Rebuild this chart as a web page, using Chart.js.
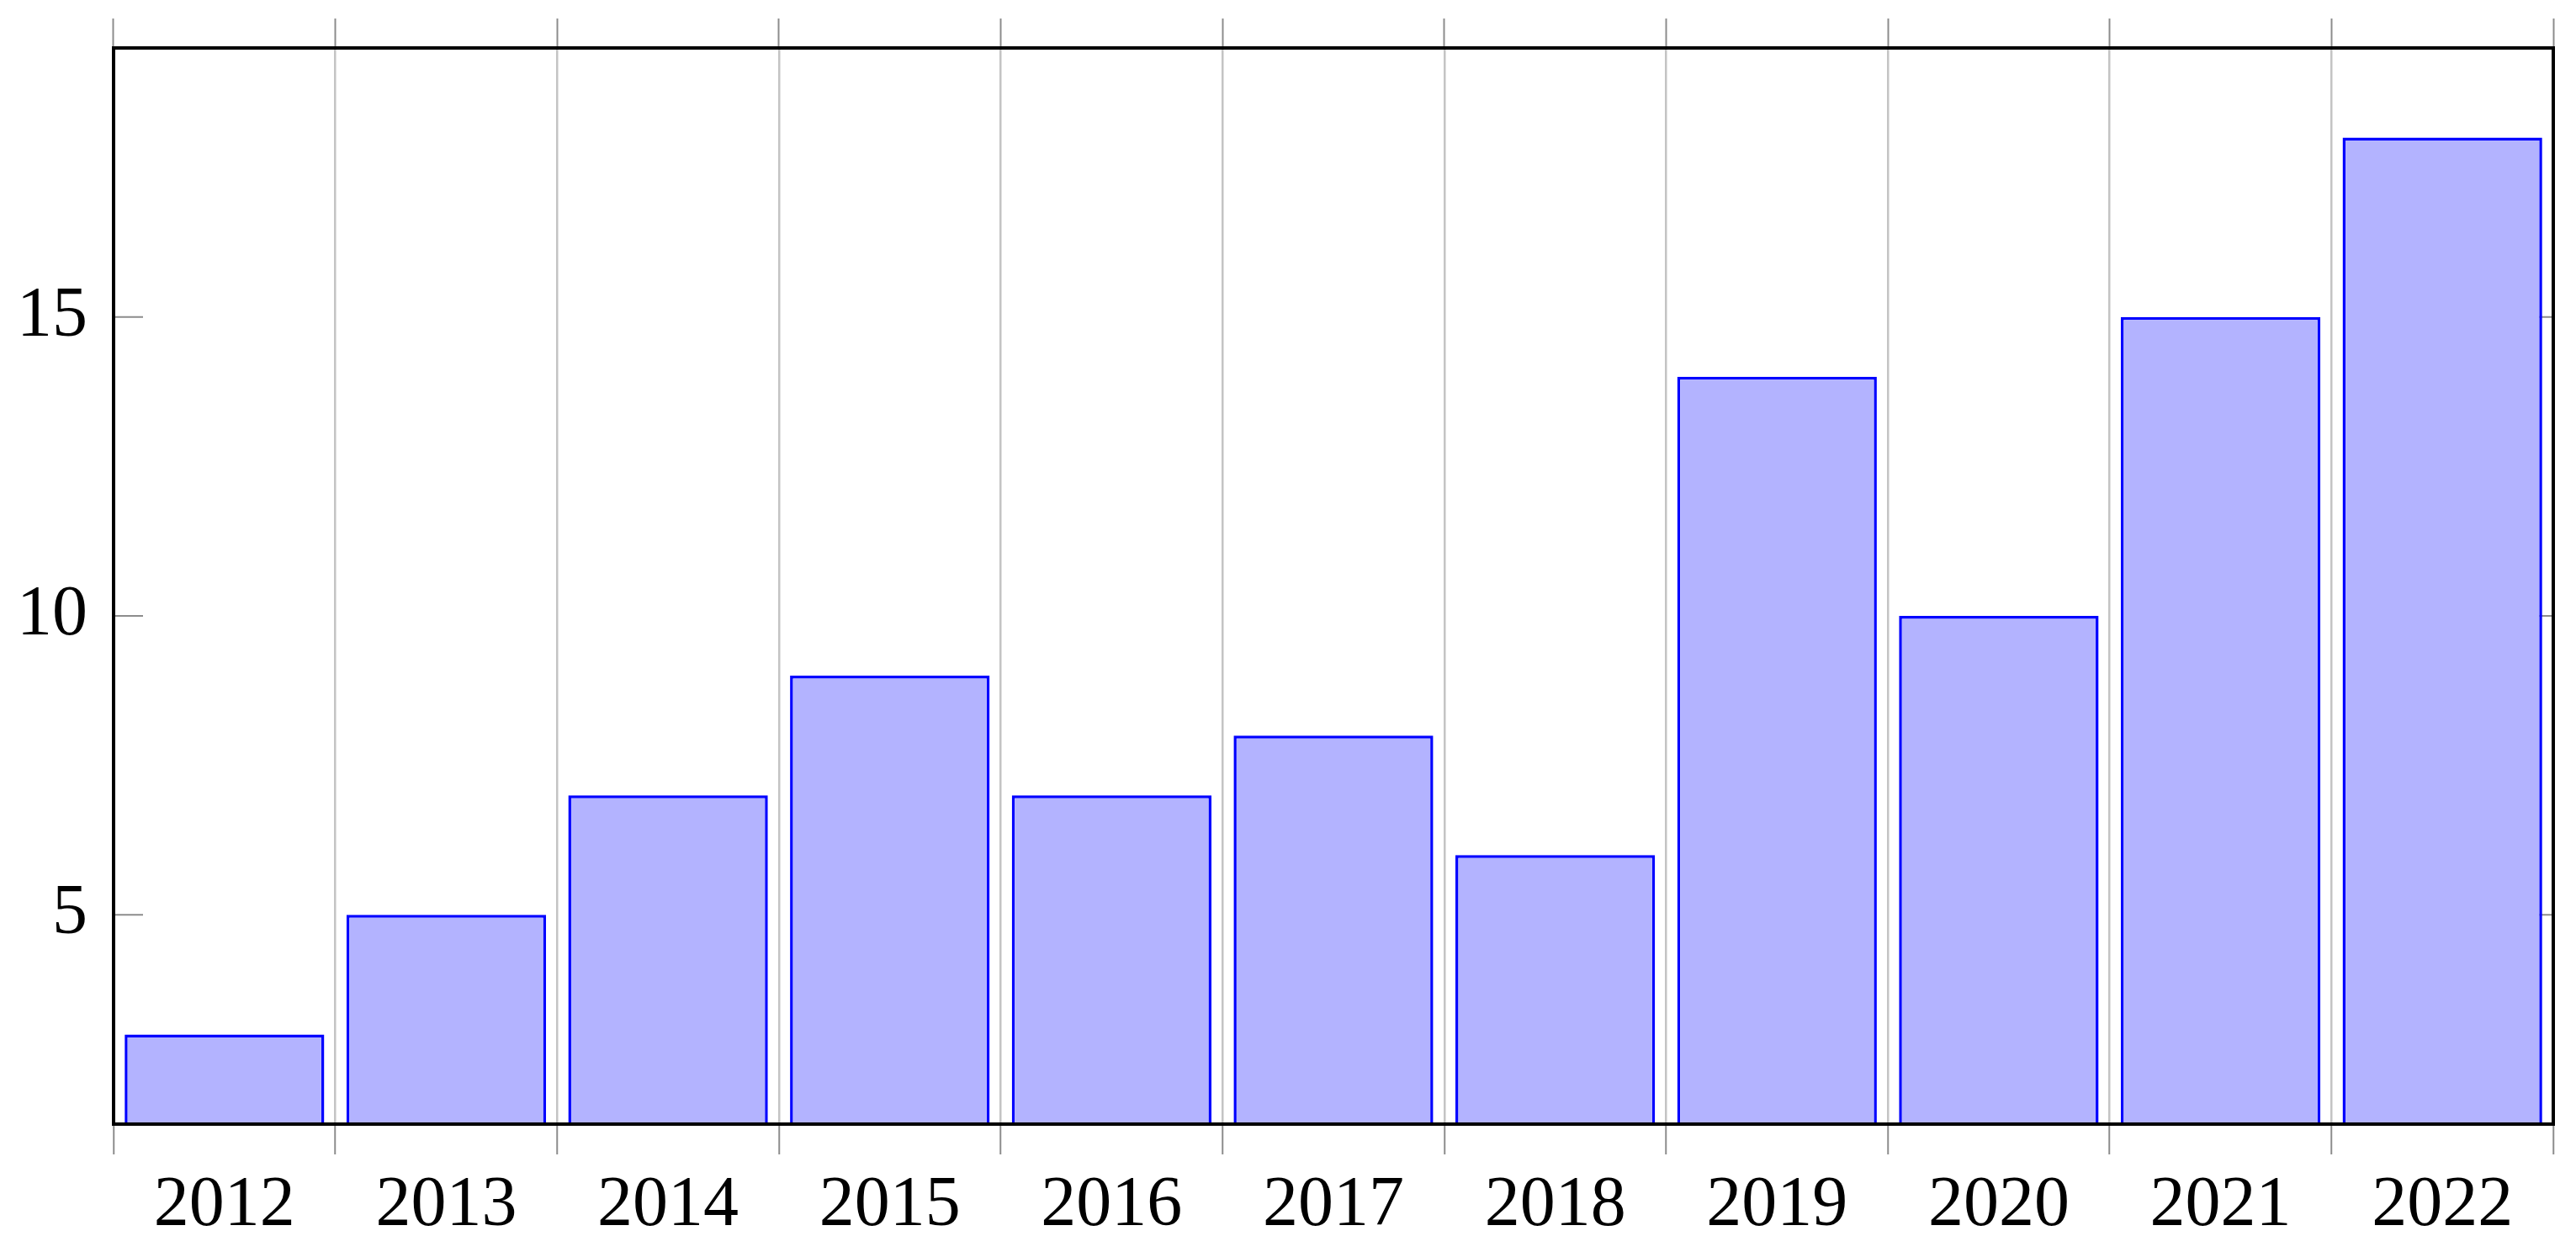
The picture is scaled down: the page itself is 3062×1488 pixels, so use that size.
<!DOCTYPE html>
<html>
<head>
<meta charset="utf-8">
<script src="https://cdn.jsdelivr.net/npm/chart.js@4.4.1/dist/chart.umd.min.js"></script>
<style>
  html, body { margin: 0; padding: 0; background: #fff; }
  canvas { display: block; }
</style>
</head>
<body>
<canvas id="barChart" width="3062" height="1488"></canvas>
<script>
const years = ['2012', '2013', '2014', '2015', '2016', '2017', '2018', '2019', '2020', '2021', '2022'];
const counts = [3, 5, 7, 9, 7, 8, 6, 14, 10, 15, 18];
const yTicks = [5, 10, 15];
const yMin = 1.5;
const yMax = 19.5;

const labelFont = { family: "'Liberation Serif', 'DejaVu Serif', serif", size: 84 };

// inward y ticks under the bars, frame on top of everything
const frame = {
  id: 'frame',
  beforeDatasetsDraw(chart) {
    const { ctx, chartArea: a, scales } = chart;
    ctx.save();
    ctx.strokeStyle = '#8c8c8c';
    ctx.lineWidth = 2;
    scales.y.ticks.forEach(t => {
      const py = scales.y.getPixelForValue(t.value);
      ctx.beginPath();
      ctx.moveTo(a.left, py); ctx.lineTo(a.left + 35, py);
      ctx.moveTo(a.right - 35, py); ctx.lineTo(a.right, py);
      ctx.stroke();
    });
    ctx.restore();
  },
  afterDatasetsDraw(chart) {
    const { ctx, chartArea: a } = chart;
    ctx.save();
    ctx.strokeStyle = '#000';
    ctx.lineWidth = 4;
    ctx.strokeRect(a.left, a.top, a.right - a.left, a.bottom - a.top);
    ctx.restore();
  }
};

var ctx = document.querySelector('#barChart').getContext('2d');
var chart = new Chart(ctx, {
  type: 'bar',
  data: {
    labels: years,
    datasets: [
      {
        data: counts,
        backgroundColor: 'rgb(179, 179, 255)',
        borderColor: '#0000ff',
        borderWidth: 3.5,
        categoryPercentage: 1,
        barPercentage: 0.9,
      },
    ],
  },
  options: {
    responsive: false,
    animation: false,
    devicePixelRatio: 1,
    layout: { padding: { left: 0, right: 27, top: 0, bottom: 0 } },
    plugins: { legend: { display: false }, tooltip: { enabled: false } },
    scales: {
      x: {
        position: 'bottom',
        offset: true,
        grid: {
          offset: true,
          color: '#c4c4c4',
          lineWidth: 2.5,
          tickColor: '#8c8c8c',
          tickWidth: 2,
          tickLength: 36,
        },
        border: { display: false },
        ticks: { font: labelFont, color: '#000', padding: 12, maxRotation: 0 },
        afterFit: s => { s.height = 152; s.paddingLeft = 0; s.paddingRight = 0; },
      },
      x2: {
        type: 'category',
        position: 'top',
        labels: years,
        offset: true,
        grid: {
          offset: true,
          drawOnChartArea: false,
          tickColor: '#8c8c8c',
          tickWidth: 2,
          tickLength: 35,
        },
        border: { display: false },
        ticks: { display: false },
        afterFit: s => { s.height = 57; s.paddingLeft = 0; s.paddingRight = 0; },
      },
      y: {
        min: yMin,
        max: yMax,
        grid: { display: false },
        border: { display: false },
        ticks: { font: labelFont, color: '#000', padding: 23 },
        afterBuildTicks: s => { s.ticks = yTicks.map(v => ({ value: v })); },
        afterFit: s => { s.width = 135; s.paddingTop = 0; s.paddingBottom = 0; },
      },
    },
  },
  plugins: [frame],
});
</script>
</body>
</html>
